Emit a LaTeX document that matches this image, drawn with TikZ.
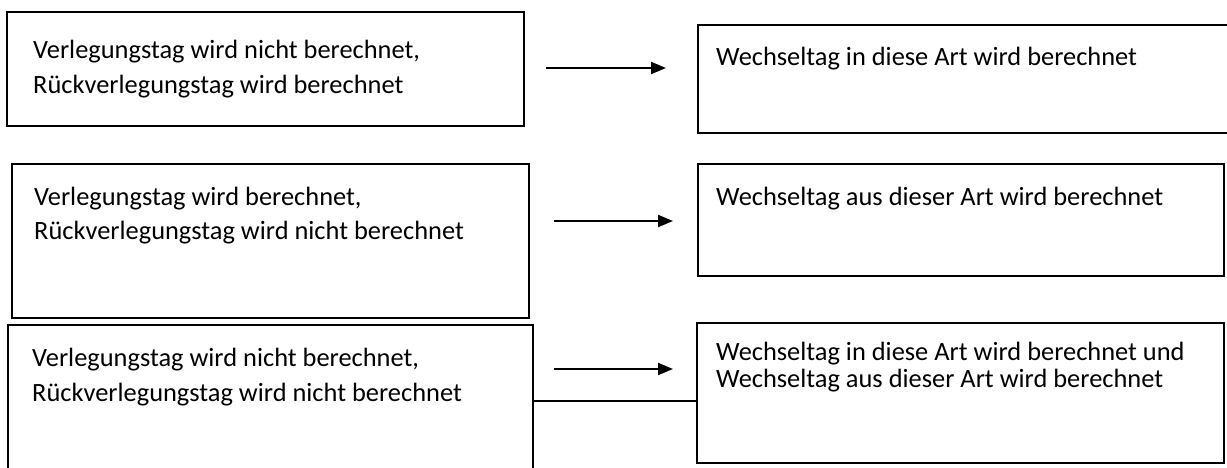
\documentclass[tikz,border=0pt]{standalone}
\usepackage{fontspec}
\setmainfont{Carlito}
\usetikzlibrary{arrows.meta}
\begin{document}
\begin{tikzpicture}[x=1pt,y=-1pt,
  box/.style={draw=black, line width=1.6pt, rectangle, inner sep=0pt, outer sep=0pt, anchor=north west},
  txt/.style={anchor=base west, inner sep=0pt, font=\fontsize{26.4}{35}\selectfont},
  txttight/.style={anchor=base west, inner sep=0pt, font=\fontsize{26.4}{27}\selectfont},
  arr/.style={line width=2pt, -{Triangle[length=15pt,width=12pt]}},
  conn/.style={line width=1.6pt}]
\useasboundingbox (0,0) rectangle (1227,468);
\clip (0,0) rectangle (1227,468);
% boxes
\node[box, minimum width=517pt, minimum height=114pt] (b1) at (7,12) {};
\node[box, minimum width=545pt, minimum height=108pt] (b2) at (698,25) {};
\node[box, minimum width=517pt, minimum height=154pt] (b3) at (12,164) {};
\node[box, minimum width=526pt, minimum height=112pt] (b4) at (698,164) {};
\node[box, minimum width=525pt, minimum height=170pt] (b5) at (8,325) {};
\node[box, minimum width=527pt, minimum height=140pt] (b6) at (697,323) {};
% texts
\node[txt] (t1) at (33,59) {\begin{tabular}[t]{@{}l@{}}Verlegungstag wird nicht berechnet,\\ Rückverlegungstag wird berechnet\end{tabular}};
\node[txt] (t2) at (716,66) {Wechseltag in diese Art wird berechnet};
\node[txt] (t3) at (34,205) {\begin{tabular}[t]{@{}l@{}}Verlegungstag wird berechnet,\\ Rückverlegungstag wird nicht berechnet\end{tabular}};
\node[txt] (t4) at (716,206) {Wechseltag aus dieser Art wird berechnet};
\node[txt] (t5) at (32,366) {\begin{tabular}[t]{@{}l@{}}Verlegungstag wird nicht berechnet,\\ Rückverlegungstag wird nicht berechnet\end{tabular}};
\node[txttight] (t6) at (716,360) {\begin{tabular}[t]{@{}l@{}}Wechseltag in diese Art wird berechnet und\\ Wechseltag aus dieser Art wird berechnet\end{tabular}};
% arrows
\coordinate (a1s) at (546,68);  \coordinate (a1e) at (666,68);
\coordinate (a2s) at (554,221); \coordinate (a2e) at (673,221);
\coordinate (a3s) at (554,369); \coordinate (a3e) at (673,369);
\draw[arr] (a1s) -- (a1e);
\draw[arr] (a2s) -- (a2e);
\draw[arr] (a3s) -- (a3e);
% connector
\draw[conn] (b5.east |- 0,401) -- (b6.west |- 0,401);
\end{tikzpicture}
\end{document}
